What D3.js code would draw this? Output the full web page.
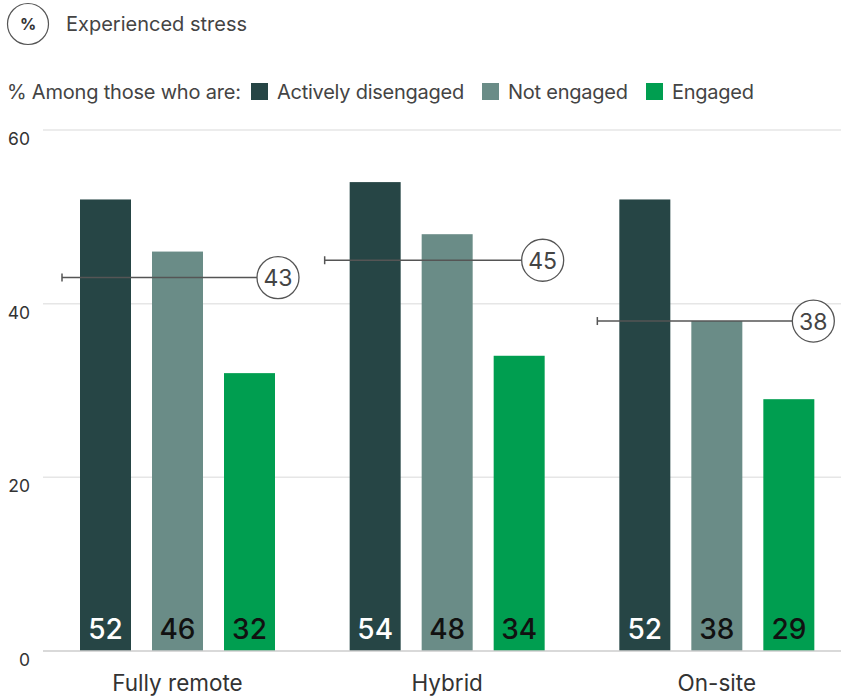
<!DOCTYPE html>
<html>
<head>
<meta charset="utf-8">
<script src="https://cdn.jsdelivr.net/npm/d3@7"></script>
<style>
  body { margin: 0; background: #fff; }
  svg { font-family: Inter, "Noto Sans", sans-serif; }
</style>
</head>
<body>
<div id="chart"></div>
<script>
// DATA
const groups = ['Fully remote', 'Hybrid', 'On-site']
const seriesNames = ['Actively disengaged', 'Not engaged', 'Engaged']
const activelyDisengaged = [52, 54, 52]
const notEngaged = [46, 48, 38]
const engaged = [32, 34, 29]
const averages = [43, 45, 38]
const yTicks = [0, 20, 40, 60]

const colors = ['#264545', '#6a8c87', '#009e50']
const labelColors = ['#fff', '#111', '#111']
const series = [activelyDisengaged, notEngaged, engaged]

// average marker offsets (line start / circle), per group
const avgLineStart = [-18, -25, -22]
const avgCircleOffset = [3, -2, -1]

// SIZING
const W = 841, H = 698
const plotLeft = 43, plotRight = 841
const svg = d3.select('#chart').append('svg').attr('width', W).attr('height', H)

// SCALES
const y = d3.scaleLinear().domain([0, 60]).range([651, 130])
const x0 = d3.scaleBand().domain(groups).range([44, 853]).paddingInner(0).paddingOuter(0)
const x1 = d3.scaleBand().domain(seriesNames).range([36, 36 + 51 * 3 + 21 * 2]).paddingInner(21 / 72)

// HEADER
svg.append('circle').attr('cx', 28).attr('cy', 24).attr('r', 20.5)
  .attr('fill', 'none').attr('stroke', '#555').attr('stroke-width', 1.2)
svg.append('text').attr('x', 28).attr('y', 30).attr('text-anchor', 'middle')
  .attr('font-size', 16).attr('font-weight', 700).attr('fill', '#333').text('%')
svg.append('text').attr('x', 66).attr('y', 31).attr('font-size', 20).attr('fill', '#444')
  .text('Experienced stress')

// LEGEND
svg.append('text').attr('x', 7).attr('y', 99).attr('font-size', 20).attr('fill', '#444')
  .attr('letter-spacing', -0.2).text('% Among those who are:')
const legendX = [251, 482, 646]
seriesNames.forEach(function(name, i) {
  svg.append('rect').attr('x', legendX[i]).attr('y', 83).attr('width', 17).attr('height', 17)
    .attr('fill', colors[i])
  svg.append('text').attr('x', legendX[i] + 26).attr('y', 99).attr('font-size', 20)
    .attr('letter-spacing', -0.25).attr('fill', '#444').text(name)
})

// GRIDLINES
svg.append('g').selectAll('line').data(yTicks.filter(d => d > 0)).enter().append('line')
  .attr('x1', plotLeft).attr('x2', plotRight)
  .attr('y1', d => y(d)).attr('y2', d => y(d))
  .attr('stroke', '#e6e6e6').attr('stroke-width', 1.5)

// Y LABELS
svg.append('g').selectAll('text').data(yTicks).enter().append('text')
  .attr('x', 30).attr('y', d => y(d) + 15).attr('text-anchor', 'end')
  .attr('font-size', 17.5).attr('fill', '#333').text(d => d)

// BARS
groups.forEach(function(g, gi) {
  const gx = x0(g)
  const gEl = svg.append('g').attr('transform', 'translate(' + gx + ',0)')
  seriesNames.forEach(function(s, si) {
    const v = series[si][gi]
    gEl.append('rect')
      .attr('x', x1(s)).attr('y', y(v))
      .attr('width', x1.bandwidth()).attr('height', y(0) - y(v))
      .attr('fill', colors[si])
    gEl.append('text')
      .attr('x', x1(s) + x1.bandwidth() / 2).attr('y', 639)
      .attr('text-anchor', 'middle').attr('font-size', 28).attr('font-weight', 500)
      .attr('fill', labelColors[si]).text(v)
  })

  // AVERAGE LINE
  const avg = averages[gi]
  const lx1 = x1(seriesNames[0]) + avgLineStart[gi]
  const cx = x1(seriesNames[2]) + x1.bandwidth() + avgCircleOffset[gi]
  gEl.append('line').attr('x1', lx1).attr('x2', cx - 21)
    .attr('y1', y(avg)).attr('y2', y(avg)).attr('stroke', '#555').attr('stroke-width', 1.5)
  gEl.append('line').attr('x1', lx1).attr('x2', lx1)
    .attr('y1', y(avg) - 4).attr('y2', y(avg) + 4).attr('stroke', '#555').attr('stroke-width', 1.5)
  gEl.append('circle').attr('cx', cx).attr('cy', y(avg)).attr('r', 21)
    .attr('fill', '#fff').attr('stroke', '#555').attr('stroke-width', 1.3)
  gEl.append('text').attr('x', cx).attr('y', y(avg) + 8.5).attr('text-anchor', 'middle')
    .attr('font-size', 23).attr('fill', '#444').text(avg)

  // CATEGORY LABEL
  gEl.append('text').attr('x', x1(seriesNames[1]) + x1.bandwidth() / 2).attr('y', 691)
    .attr('text-anchor', 'middle').attr('font-size', 22.5).attr('fill', '#333').text(g)
})

// BASELINE
svg.append('line').attr('x1', plotLeft).attr('x2', plotRight)
  .attr('y1', y(0)).attr('y2', y(0)).attr('stroke', '#ccc').attr('stroke-width', 1.5)
</script>
</body>
</html>
